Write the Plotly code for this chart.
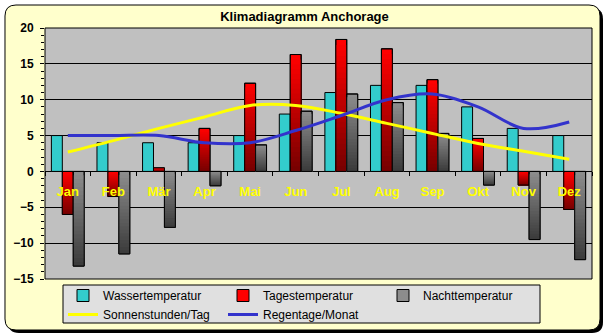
import plotly.graph_objects as go

# Monthly climate values for Anchorage
months = ["Jan", "Feb", "Mär", "Apr", "Mai", "Jun", "Jul", "Aug", "Sep", "Okt", "Nov", "Dez"]
wassertemperatur = [5, 4, 4, 4, 5, 8, 11, 12, 12, 9, 6, 5]
tagestemperatur = [-6, -3.5, 0.5, 6, 12.3, 16.3, 18.4, 17.1, 12.8, 4.6, -1.9, -5.3]
nachttemperatur = [-13.2, -11.5, -7.8, -2, 3.7, 8.4, 10.8, 9.6, 5.3, -1.9, -9.5, -12.3]
sonnenstunden = [2.7, 4.3, 6.0, 7.6, 9.2, 9.2, 8.1, 6.7, 5.3, 3.9, 2.8, 1.7]
regentage = [5, 5, 5, 4, 4, 5.7, 7.8, 10, 10.8, 9, 6, 6.9]

W, H = 609, 336
L, R, T, B = 45, 592, 28, 279  # plot area in pixels
Y_MIN, Y_MAX = -15, 20


def px2x(px):
    return (px - L) / (R - L)


def py2y(py):
    return (B - py) / (B - T)


def rounded_rect(x0, y0, x1, y1, r):
    """SVG path of a rounded rectangle given in pixels, expressed in paper units."""
    def p(x, y):
        return f"{px2x(x):.5f},{py2y(y):.5f}"
    return (
        f"M {p(x0 + r, y0)} L {p(x1 - r, y0)} Q {p(x1, y0)} {p(x1, y0 + r)} "
        f"L {p(x1, y1 - r)} Q {p(x1, y1)} {p(x1 - r, y1)} "
        f"L {p(x0 + r, y1)} Q {p(x0, y1)} {p(x0, y1 - r)} "
        f"L {p(x0, y0 + r)} Q {p(x0, y0)} {p(x0 + r, y0)} Z"
    )


def blend(c0, c1, t):
    return "rgb({},{},{})".format(*[round(a + (b - a) * t) for a, b in zip(c0, c1)])


BAR_W = 0.24
fig = go.Figure()

# Water temperature: plain cyan bars
fig.add_trace(go.Bar(
    x=months, y=wassertemperatur, name="Wassertemperatur",
    offset=-0.36, width=BAR_W,
    marker=dict(color="#33CCCC", line=dict(color="black", width=1)),
))


def gradient_bars(values, name, top_rgb, bottom_rgb, offset, n=24):
    """Bars shaded from top_rgb at the upper edge to bottom_rgb at the lower edge."""
    base = [min(v, 0) for v in values]
    height = [abs(v) for v in values]
    for k in range(n):
        f = 1 - k / n
        fig.add_trace(go.Bar(
            x=months, y=[h * f for h in height], base=base,
            offset=offset, width=BAR_W, name=name,
            showlegend=(k == 0), legendgroup=name, hoverinfo="skip" if k else None,
            marker=dict(color=blend(top_rgb, bottom_rgb, k / (n - 1)),
                        line=dict(color="black", width=1 if k == 0 else 0)),
        ))
    # crisp outline on top of the shading
    fig.add_trace(go.Bar(
        x=months, y=height, base=base, offset=offset, width=BAR_W,
        showlegend=False, legendgroup=name, hoverinfo="skip",
        marker=dict(color="rgba(0,0,0,0)", line=dict(color="black", width=1)),
    ))


gradient_bars(tagestemperatur, "Tagestemperatur", (255, 0, 0), (120, 0, 0), -0.12)
gradient_bars(nachttemperatur, "Nachttemperatur", (140, 140, 140), (60, 60, 60), 0.12)

fig.add_trace(go.Scatter(
    x=months, y=sonnenstunden, name="Sonnenstunden/Tag", mode="lines",
    line=dict(color="#FFFF00", width=3, shape="spline"),
))
fig.add_trace(go.Scatter(
    x=months, y=regentage, name="Regentage/Monat", mode="lines",
    line=dict(color="#3333CC", width=3, shape="spline"),
))

shapes = [
    # drop shadow and cream frame
    dict(type="path", xref="paper", yref="paper", layer="below",
         path=rounded_rect(8, 8, 603, 333, 11), fillcolor="black", line=dict(width=0)),
    dict(type="path", xref="paper", yref="paper", layer="below",
         path=rounded_rect(5, 5, 600, 330, 11), fillcolor="#FFFFCC",
         line=dict(color="black", width=1)),
    # grey plot area
    dict(type="rect", xref="paper", yref="paper", layer="below",
         x0=0, x1=1, y0=0, y1=1, fillcolor="#C0C0C0", line=dict(color="black", width=1)),
    # legend panel
    dict(type="rect", xref="paper", yref="paper", layer="below",
         x0=px2x(63), x1=px2x(540), y0=py2y(323), y1=py2y(285),
         fillcolor="#E0E0E0", line=dict(color="black", width=1)),
]

fig.update_layout(
    width=W, height=H, autosize=False,
    margin=dict(l=L, r=W - R, t=T, b=H - B, pad=0, autoexpand=False),
    paper_bgcolor="white", plot_bgcolor="rgba(0,0,0,0)",
    barmode="overlay",
    shapes=shapes,
    font=dict(family="Arial, Liberation Sans, sans-serif", color="black", size=12),
    title=dict(text="<b>Klimadiagramm Anchorage</b>", xref="container", x=0.5,
               xanchor="center", yref="container", y=1 - 16 / H, yanchor="middle",
               font=dict(size=13, color="black")),
    xaxis=dict(
        type="category", categoryorder="array", categoryarray=months,
        range=[-0.5, 11.5], anchor="free", position=(0 - Y_MIN) / (Y_MAX - Y_MIN),
        showgrid=False, zeroline=False, showline=False,
        ticks="outside", tickson="boundaries", ticklen=4, tickcolor="black",
        ticklabelstandoff=11,
        tickfont=dict(size=13, color="#FFFF00", weight="bold"),
        fixedrange=True, automargin=False,
    ),
    yaxis=dict(
        range=[Y_MIN, Y_MAX], tick0=0, dtick=5,
        showgrid=True, gridcolor="black", gridwidth=1,
        zeroline=True, zerolinecolor="black", zerolinewidth=1,
        ticks="outside", ticklen=4, tickcolor="black",
        minor=dict(dtick=1, ticks="outside", ticklen=3, tickcolor="black", showgrid=False),
        tickfont=dict(size=12, color="black", weight="bold"),
        ticklabelstandoff=4,
        fixedrange=True, automargin=False,
    ),
    legend=dict(
        orientation="h", x=px2x(63), xanchor="left", y=py2y(281), yanchor="top",
        bgcolor="rgba(0,0,0,0)", borderwidth=0,
        font=dict(size=12, color="black"),
        entrywidth=115, entrywidthmode="pixels", itemwidth=30,
        traceorder="normal",
    ),
    showlegend=True,
)

fig.write_html("out.html", config=dict(displayModeBar=False, staticPlot=True))
